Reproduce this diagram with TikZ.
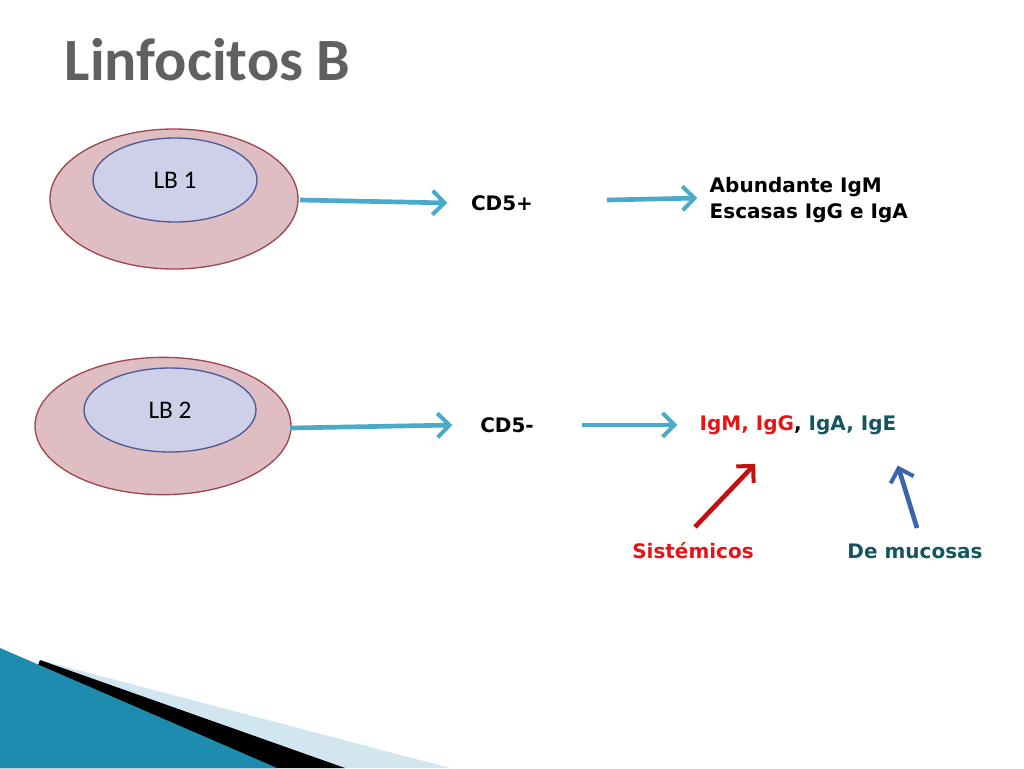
\documentclass[tikz,border=0pt]{standalone}
\usepackage{fontspec}
\setmainfont{DejaVu Sans}
\newfontfamily\titlefont{Carlito}
\usetikzlibrary{arrows.meta,positioning,shapes.geometric}
\definecolor{arrowteal}{RGB}{75,170,200}
\definecolor{cellpink}{RGB}{222,190,195}
\definecolor{cellline}{RGB}{160,70,80}
\definecolor{nucblue}{RGB}{205,208,232}
\definecolor{nucline}{RGB}{80,90,150}
\definecolor{mucteal}{RGB}{20,85,95}
\definecolor{sysred}{RGB}{230,20,20}
\definecolor{mucblue}{RGB}{60,100,170}
\definecolor{decoteal}{RGB}{30,140,175}
\definecolor{decolight}{RGB}{210,230,240}
\begin{document}
\begin{tikzpicture}[x=0.75pt,y=-0.75pt,
        cell/.style={ellipse, draw=cellline, fill=cellpink, line width=1pt, inner sep=0pt},
        nucleus/.style={ellipse, draw=nucline, fill=nucblue, line width=1pt, inner sep=0pt, font=\titlefont\fontsize{19}{19}\selectfont},
        label/.style={font=\bfseries\fontsize{15}{19}\selectfont, align=left},
        arrow/.style={-{Straight Barb[length=9pt,width=18pt,line width=3pt]}, line width=3.5pt, arrowteal, shorten >=2pt},
    ]
    \useasboundingbox (0,0) rectangle (1024,768);

    % Title
    \node[font=\titlefont\bfseries\fontsize{45}{45}\selectfont, text=gray!75!black, anchor=west] (title) at (60,60) {Linfocitos B};

    % Row 1
    \node[cell, minimum width=186pt, minimum height=105pt] (cell1) at (174,199) {};
    \node[nucleus, minimum width=123pt, minimum height=63pt] (lb1) at (175,180) {LB 1};
    \node[label] (cdpos) at (502,203) {CD5+};
    \node[label, anchor=west] (abund) at (705,200) {Abundante IgM\\Escasas IgG e IgA};

    % Row 2
    \node[cell, minimum width=192pt, minimum height=103pt] (cell2) at (163,426) {};
    \node[nucleus, minimum width=129pt, minimum height=63pt] (lb2) at (170,410) {LB 2};
    \node[label] (cdneg) at (507,425) {CD5-};
    \node[label, anchor=west] (igs) at (695,425) {\textcolor{sysred}{IgM, IgG}, \textcolor{mucteal}{IgA, IgE}};

    % Origins
    \node[label, text=sysred] (sys) at (693,551) {Sistémicos};
    \node[label, text=mucteal] (muc) at (915,551) {De mucosas};

    \coordinate (a1) at (300,200);
    \coordinate (a2) at (450,203);
    \coordinate (a3) at (607,200);
    \coordinate (a4) at (700,198);
    \coordinate (b1) at (290,428);
    \coordinate (b2) at (455,425);
    \coordinate (b3) at (582,425);
    \coordinate (b4) at (680,425);
    \coordinate (r1) at (695,527);
    \coordinate (r2) at (757,462);
    \coordinate (m1) at (917,528);
    \coordinate (m2) at (897,463);

    % Arrows
    \draw[arrow] (a1) -- (a2);
    \draw[arrow] (a3) -- (a4);
    \draw[arrow] (b1) -- (b2);
    \draw[arrow] (b3) -- (b4);
    \draw[arrow, draw=sysred!85!black] (r1) -- (r2);
    \draw[arrow, draw=mucblue] (m1) -- (m2);

    % Decoration
    \fill[decolight] (40,660) -- (450,768) -- (0,768) -- cycle;
    \fill[black] (40,660) -- (345,768) -- (0,768) -- cycle;
    \fill[decoteal] (0,648) -- (277,768) -- (0,768) -- cycle;
\end{tikzpicture}
\end{document}
